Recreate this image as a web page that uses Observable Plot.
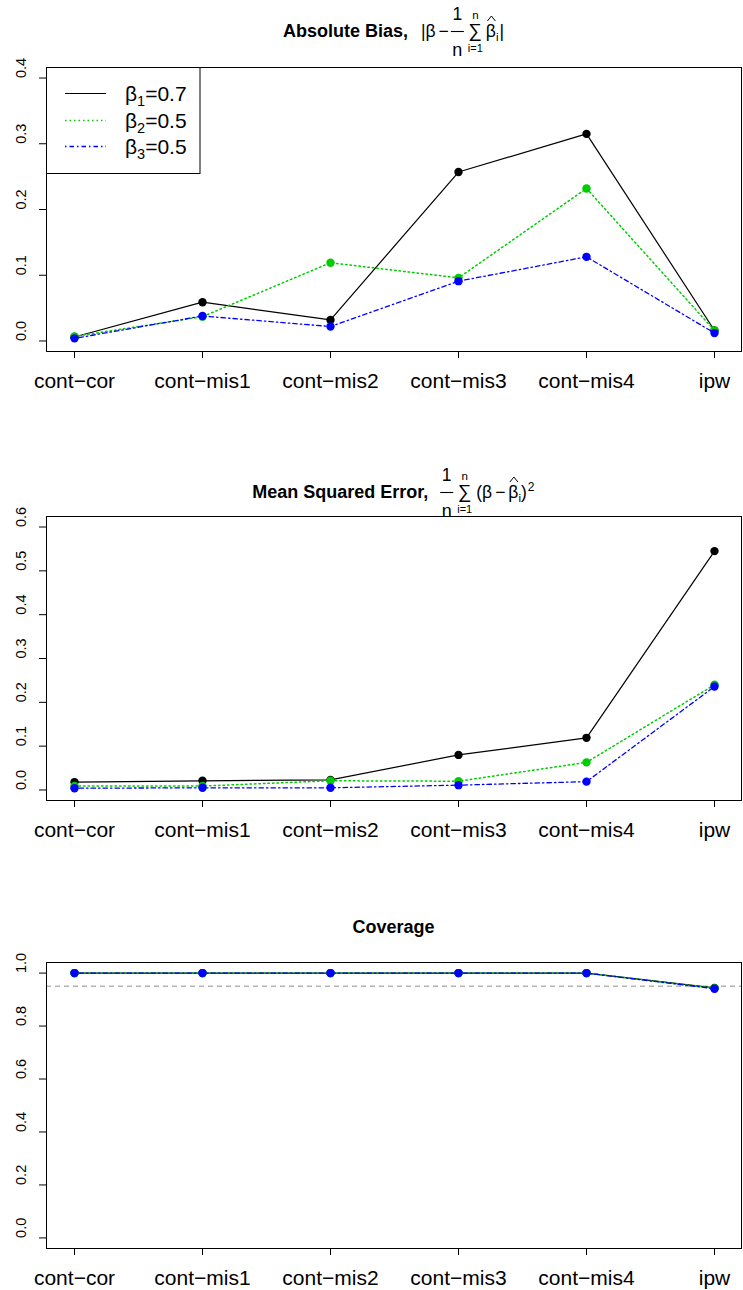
<!DOCTYPE html>
<html>
<head>
<meta charset="utf-8">
<script src="https://cdn.jsdelivr.net/npm/d3@7"></script>
<script src="https://cdn.jsdelivr.net/npm/@observablehq/plot@0.6"></script>
<style>
  body { margin: 0; background: #fff; }
  #page { position: relative; width: 743px; height: 1290px; background: #fff; overflow: hidden; }
  #page > svg { position: absolute; left: 0; }
</style>
</head>
<body>
<div id="page"></div>
<script>
// Estimation methods compared along the x axis
const methods = ["cont-cor", "cont-mis1", "cont-mis2", "cont-mis3", "cont-mis4", "ipw"];

// Coefficients and their true values
const coefNames = ["\u03b2", "\u03b2", "\u03b2"];
const coefIndex = ["1", "2", "3"];
const coefTrue = [0.7, 0.5, 0.5];

// Absolute bias
const biasB1 = [0.006, 0.059, 0.032, 0.257, 0.315, 0.016];
const biasB2 = [0.007, 0.037, 0.119, 0.096, 0.232, 0.016];
const biasB3 = [0.004, 0.038, 0.022, 0.091, 0.128, 0.012];

// Mean squared error
const mseB1 = [0.018, 0.021, 0.023, 0.080, 0.119, 0.545];
const mseB2 = [0.009, 0.009, 0.021, 0.020, 0.063, 0.240];
const mseB3 = [0.004, 0.005, 0.005, 0.011, 0.019, 0.236];

// Coverage of the confidence intervals
const covB1 = [1, 1, 1, 1, 1, 0.944];
const covB2 = [1, 1, 1, 1, 1, 0.943];
const covB3 = [1, 1, 1, 1, 1, 0.941];
const nominalCoverage = 0.95;

// Axis ticks and limits
const biasTicks = [0, 0.1, 0.2, 0.3, 0.4];
const mseTicks = [0, 0.1, 0.2, 0.3, 0.4, 0.5, 0.6];
const covTicks = [0, 0.2, 0.4, 0.6, 0.8, 1.0];
const biasLim = [0, 0.4];
const mseLim = [0, 0.6];
const covLim = [0, 1];

// Line styles per coefficient (solid black, dotted green, dot-dash blue)
const seriesStyle = [
  { color: "#000000", dash: null, width: 1.2 },
  { color: "#00cd00", dash: "1.5,3", width: 1.5 },
  { color: "#0000ff", dash: "1.5,3,4.5,3", width: 1.3 }
];

const FONT = '"Liberation Sans", Arial, Helvetica, sans-serif';
const page = document.getElementById("page");
const fmt = d3.format(".1f");

function panel({ values, ticks, limits, top, height, marginTop, marginBottom, refLine }) {
  const pad = 0.04 * (limits[1] - limits[0]);
  const marks = [];
  if (refLine != null) {
    marks.push(Plot.ruleY([refLine], { stroke: "#b4b4b4", strokeWidth: 1.5, strokeDasharray: "5,4" }));
  }
  values.forEach((vals, i) => {
    const rows = vals.map((v, j) => ({ method: methods[j], value: v, coef: coefIndex[i] }));
    const st = seriesStyle[i];
    marks.push(Plot.line(rows, { x: "method", y: "value", stroke: st.color, strokeWidth: st.width, strokeDasharray: st.dash }));
    marks.push(Plot.dot(rows, { x: "method", y: "value", fill: st.color, r: 4.2 }));
  });
  marks.push(Plot.frame({ stroke: "black", strokeWidth: 1 }));
  marks.push(Plot.axisX({ tickSize: 7, tickPadding: 15, fontSize: 21, label: null,
    tickFormat: d => d.replace(/-/g, "\u2212") }));
  marks.push(Plot.axisY(ticks, { tickSize: 7, label: null, tickFormat: () => "" }));
  marks.push(Plot.text(ticks, { y: d => d, text: d => fmt(d), frameAnchor: "left", dx: -25,
    rotate: -90, fontSize: 14.5, fill: "black" }));
  const svg = Plot.plot({
    width: 743, height, marginLeft: 46, marginRight: 2, marginTop, marginBottom,
    x: { type: "point", domain: methods, padding: 0.2, label: null },
    y: { domain: [limits[0] - pad, limits[1] + pad], label: null },
    style: { fontFamily: FONT, background: "transparent", color: "black", overflow: "visible" },
    marks
  });
  svg.style.top = top + "px";
  page.appendChild(svg);
}

panel({ values: [biasB1, biasB2, biasB3], ticks: biasTicks, limits: biasLim,
  top: 47, height: 364, marginTop: 20, marginBottom: 60 });
panel({ values: [mseB1, mseB2, mseB3], ticks: mseTicks, limits: mseLim,
  top: 496, height: 364, marginTop: 20, marginBottom: 60 });
panel({ values: [covB1, covB2, covB3], ticks: covTicks, limits: covLim,
  top: 942, height: 348, marginTop: 20, marginBottom: 42, refLine: nominalCoverage });

// Overlay for the titles and the legend
const overlay = d3.create("svg").attr("width", 743).attr("height", 1290)
  .style("top", "0px").style("overflow", "visible");
page.appendChild(overlay.node());

const TS = 18;   // title text size
const MS = 17.5; // math text size

function txt(g, s, x, y, size, opts = {}) {
  const t = g.append("text").attr("x", x).attr("y", y).attr("font-size", size)
    .attr("font-family", FONT).attr("fill", "black").text(s);
  if (opts.bold) t.attr("font-weight", "bold");
  if (opts.anchor) t.attr("text-anchor", opts.anchor);
  return t.node().getComputedTextLength();
}

// 1/n fraction
function fraction(g, x) {
  const w = 13;
  g.append("line").attr("x1", x).attr("x2", x + w).attr("y1", -5.5).attr("y2", -5.5)
    .attr("stroke", "black").attr("stroke-width", 1.1);
  txt(g, "1", x + w / 2, -17, MS, { anchor: "middle" });
  txt(g, "n", x + w / 2, 18.5, 18, { anchor: "middle" });
  return x + w;
}

// summation sign with limits i=1 .. n
function summation(g, x) {
  const w = 17, cx = x + w / 2;
  txt(g, "\u2211", cx, 0, 19, { anchor: "middle" });
  txt(g, "n", cx, -18.5, 11.5, { anchor: "middle" });
  txt(g, "i=1", cx, 15, 11, { anchor: "middle" });
  return x + w;
}

// beta with hat and subscript i
function betaHat(g, x) {
  const w = txt(g, "\u03b2", x, 0, MS);
  const cx = x + w / 2 + 0.5;
  g.append("path").attr("d", `M${cx - 4},-16L${cx},-21L${cx + 4},-16`)
    .attr("fill", "none").attr("stroke", "black").attr("stroke-width", 1);
  const ws = txt(g, "i", x + w, 4, 11.5);
  return x + w + ws;
}

function centre(g, baseline) {
  const b = g.node().getBBox();
  g.attr("transform", `translate(${393.5 - (b.x + b.width / 2)},${baseline})`);
}

// Title: Absolute Bias, |β − (1/n) Σ β̂_i|
{
  const g = overlay.append("g");
  let x = 0;
  x += txt(g, "Absolute Bias,", x, 0, TS, { bold: true });
  x += 13;
  x += txt(g, "|\u03b2", x, 0, MS);
  x += 3;
  x += txt(g, "\u2212", x, 0, MS);
  x += 2;
  x = fraction(g, x);
  x += 3;
  x = summation(g, x);
  x += 2;
  x = betaHat(g, x);
  x += 1;
  txt(g, "|", x, 0, MS);
  centre(g, 37);
}

// Title: Mean Squared Error, (1/n) Σ (β − β̂_i)^2
{
  const g = overlay.append("g");
  let x = 0;
  x += txt(g, "Mean Squared Error,", x, 0, TS, { bold: true });
  x += 12;
  x = fraction(g, x);
  x += 3;
  x = summation(g, x);
  x += 3;
  x += txt(g, "(\u03b2", x, 0, MS);
  x += 3;
  x += txt(g, "\u2212", x, 0, MS);
  x += 3;
  x = betaHat(g, x);
  x += txt(g, ")", x, 0, MS);
  txt(g, "2", x + 1, -7, 12);
  centre(g, 498);
}

// Title: Coverage
{
  const g = overlay.append("g");
  txt(g, "Coverage", 0, 0, TS, { bold: true });
  centre(g, 933);
}

// Legend in the top-left corner of the first panel
{
  const g = overlay.append("g");
  g.append("rect").attr("x", 46.5).attr("y", 67.5).attr("width", 153.5).attr("height", 106)
    .attr("fill", "white").attr("stroke", "black").attr("stroke-width", 1);
  coefNames.forEach((name, i) => {
    const yLine = Math.round(93 + i * 26.6) + 0.5;
    const st = seriesStyle[i];
    const ln = g.append("line").attr("x1", 65).attr("x2", 106).attr("y1", yLine).attr("y2", yLine)
      .attr("stroke", st.color).attr("stroke-width", st.width);
    if (st.dash) ln.attr("stroke-dasharray", st.dash);
    const t = g.append("text").attr("x", 125).attr("y", yLine + 7.5).attr("font-family", FONT)
      .attr("font-size", 21).attr("fill", "black");
    t.append("tspan").text(name);
    t.append("tspan").attr("font-size", 14.5).attr("dy", 5).text(coefIndex[i]);
    t.append("tspan").attr("dy", -5).text("=" + coefTrue[i]);
  });
}
</script>
</body>
</html>
